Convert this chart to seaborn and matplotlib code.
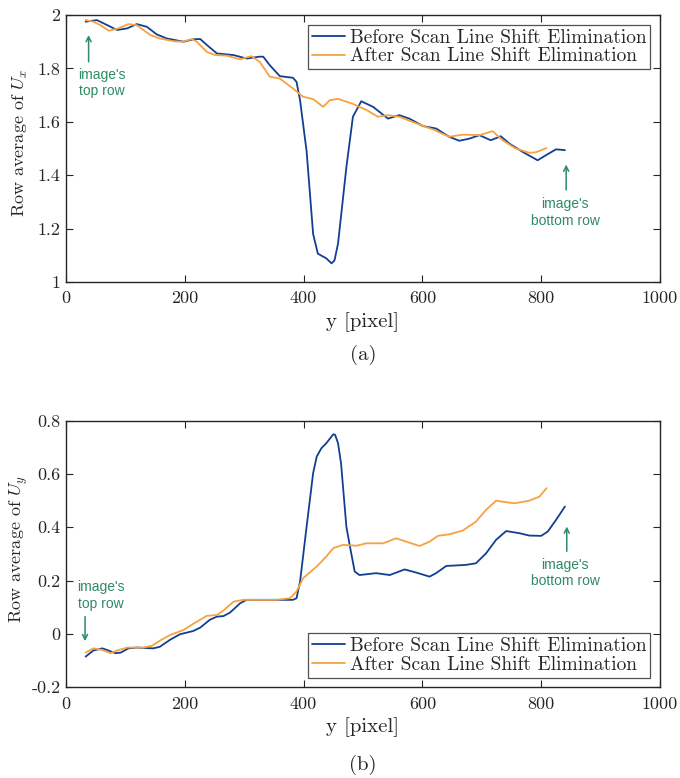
import matplotlib
matplotlib.use("Agg")
import matplotlib.pyplot as plt
import seaborn as sns

# ---- Row average of U_x ----
ux_before_y = [33, 52, 63, 86, 103, 119, 136, 153, 170, 198, 214, 226, 237, 254, 282,
               304, 326, 332, 343, 360, 382, 388, 394, 405, 416, 424, 438, 447, 452,
               458, 472, 483, 497, 517, 542, 561, 578, 601, 623, 645, 662, 679, 696,
               715, 732, 746, 769, 794, 808, 825, 840]
ux_before = [1.975, 1.981, 1.969, 1.944, 1.950, 1.966, 1.956, 1.927, 1.912, 1.900,
             1.909, 1.910, 1.888, 1.856, 1.850, 1.837, 1.844, 1.844, 1.812, 1.771,
             1.765, 1.750, 1.681, 1.490, 1.180, 1.106, 1.089, 1.070, 1.081, 1.145,
             1.430, 1.619, 1.677, 1.656, 1.612, 1.625, 1.612, 1.584, 1.575, 1.544,
             1.529, 1.537, 1.550, 1.531, 1.546, 1.519, 1.487, 1.456, 1.475, 1.497,
             1.494]

ux_after_y = [33, 46, 58, 72, 88, 105, 119, 142, 158, 181, 196, 212, 220, 237, 251,
              270, 293, 312, 326, 343, 360, 382, 399, 416, 433, 444, 458, 483, 506,
              525, 542, 561, 590, 618, 645, 668, 696, 718, 735, 757, 780, 791, 809]
ux_after = [1.981, 1.975, 1.962, 1.941, 1.950, 1.966, 1.962, 1.925, 1.912, 1.902,
            1.900, 1.910, 1.900, 1.862, 1.850, 1.848, 1.834, 1.846, 1.825, 1.769,
            1.762, 1.725, 1.694, 1.685, 1.656, 1.681, 1.686, 1.667, 1.644, 1.619,
            1.625, 1.619, 1.594, 1.571, 1.544, 1.552, 1.550, 1.565, 1.531, 1.500,
            1.484, 1.486, 1.502]

# ---- Row average of U_y ----
uy_before_y = [33, 46, 61, 69, 83, 92, 105, 119, 147, 158, 175, 192, 214, 226, 242,
               254, 265, 276, 293, 304, 326, 354, 382, 388, 394, 405, 416, 422, 430,
               438, 450, 453, 458, 463, 472, 478, 486, 494, 522, 545, 570, 590, 612,
               623, 640, 673, 690, 707, 724, 741, 763, 780, 800, 811, 825, 840]
uy_before = [-0.085, -0.062, -0.054, -0.060, -0.072, -0.070, -0.054, -0.051, -0.054,
             -0.048, -0.022, -0.001, 0.011, 0.024, 0.053, 0.065, 0.067, 0.080, 0.115,
             0.128, 0.128, 0.128, 0.128, 0.134, 0.196, 0.402, 0.603, 0.665, 0.697,
             0.715, 0.749, 0.747, 0.715, 0.640, 0.402, 0.328, 0.234, 0.221, 0.228,
             0.221, 0.242, 0.230, 0.215, 0.228, 0.255, 0.259, 0.265, 0.302, 0.353,
             0.386, 0.378, 0.369, 0.368, 0.384, 0.428, 0.478]

uy_after_y = [33, 46, 61, 75, 86, 103, 130, 145, 158, 175, 198, 214, 237, 254, 265,
              282, 298, 326, 354, 377, 388, 399, 422, 438, 450, 466, 489, 506, 534,
              556, 573, 595, 612, 626, 646, 668, 690, 707, 724, 735, 755, 780, 797, 809]
uy_after = [-0.070, -0.054, -0.060, -0.072, -0.062, -0.051, -0.051, -0.044, -0.025,
            -0.004, 0.015, 0.038, 0.068, 0.071, 0.088, 0.121, 0.128, 0.128, 0.128,
            0.134, 0.159, 0.209, 0.253, 0.290, 0.322, 0.334, 0.331, 0.340, 0.340,
            0.359, 0.346, 0.330, 0.346, 0.368, 0.374, 0.388, 0.421, 0.465, 0.500,
            0.496, 0.490, 0.500, 0.515, 0.547]

series_names = ["Before Scan Line Shift Elimination", "After Scan Line Shift Elimination"]
x_label = "y [pixel]"
y_labels = [r"Row average of $U_x$", r"Row average of $U_y$"]
captions = ["(a)", "(b)"]
note_top = "image's\ntop row"
note_bottom = "image's\nbottom row"

BLUE = "#123f91"
ORANGE = "#f7a23e"
GREEN = "#2e8b64"

sns.set_style("ticks")
plt.rcParams["font.family"] = ["cmr10", "DejaVu Serif"]
plt.rcParams["mathtext.fontset"] = "cm"
plt.rcParams["axes.unicode_minus"] = False
plt.rcParams["axes.formatter.use_mathtext"] = False

fig = plt.figure(figsize=(6.8, 7.78), dpi=100)
ax_a = fig.add_axes([0.0971, 0.6375, 0.8735, 0.3432])
ax_b = fig.add_axes([0.0971, 0.1166, 0.8735, 0.3427])


def style_axes(ax, ylim, yticks, ylabel):
    ax.set_xlim(0, 1000)
    ax.set_ylim(*ylim)
    ax.set_xticks([0, 200, 400, 600, 800, 1000])
    ax.set_yticks(yticks)
    ax.set_yticklabels([f"{t:g}" for t in yticks])
    ax.tick_params(direction="in", top=True, right=True, length=5, width=0.8,
                   labelsize=13, colors="#262626")
    ax.tick_params(axis="x", pad=6.5)
    ax.tick_params(axis="y", pad=4)
    for s in ax.spines.values():
        s.set_linewidth(1.0)
        s.set_color("#262626")
        s.set_visible(True)
    ax.set_xlabel(x_label, fontsize=15, labelpad=4)
    ax.set_ylabel(ylabel, fontsize=13)
    # same y-label column for both panels
    ax.yaxis.set_label_coords(-0.061, 0.52)


def annotate(ax, text, xy, xytext, tx, ty):
    ax.annotate("", xy=xy, xytext=xytext,
                arrowprops=dict(arrowstyle="->", color=GREEN, lw=1.1,
                                shrinkA=0, shrinkB=0, mutation_scale=9))
    ax.text(tx, ty, text, color=GREEN, ha="center", va="center",
            fontsize=10, family=["Liberation Sans"], linespacing=1.25)


def add_legend(ax, loc):
    leg = ax.legend(loc=loc, fontsize=14, frameon=True, fancybox=False,
                    handlelength=1.7, handletextpad=0.25, borderpad=0.2,
                    labelspacing=0.05, borderaxespad=0.5)
    leg.get_frame().set_edgecolor("#262626")
    leg.get_frame().set_linewidth(0.9)


# Panel (a)
sns.lineplot(x=ux_before_y, y=ux_before, ax=ax_a, color=BLUE, lw=1.3,
             label=series_names[0], sort=False)
sns.lineplot(x=ux_after_y, y=ux_after, ax=ax_a, color=ORANGE, lw=1.3,
             label=series_names[1], sort=False)
style_axes(ax_a, (1, 2), [1, 1.2, 1.4, 1.6, 1.8, 2], y_labels[0])
add_legend(ax_a, "upper right")
annotate(ax_a, note_top, (38, 1.925), (38, 1.825), 60, 1.745)
annotate(ax_a, note_bottom, (842, 1.44), (842, 1.345), 840, 1.26)
ax_a.text(0.5, -0.273, captions[0], transform=ax_a.transAxes, ha="center",
          va="center", fontsize=15)

# Panel (b)
sns.lineplot(x=uy_before_y, y=uy_before, ax=ax_b, color=BLUE, lw=1.3,
             label=series_names[0], sort=False)
sns.lineplot(x=uy_after_y, y=uy_after, ax=ax_b, color=ORANGE, lw=1.3,
             label=series_names[1], sort=False)
style_axes(ax_b, (-0.2, 0.8), [-0.2, 0, 0.2, 0.4, 0.6, 0.8], y_labels[1])
add_legend(ax_b, "lower right")
annotate(ax_b, note_top, (32, -0.027), (32, 0.065), 58, 0.143)
annotate(ax_b, note_bottom, (843, 0.403), (843, 0.31), 840, 0.229)
ax_b.text(0.5, -0.292, captions[1], transform=ax_b.transAxes, ha="center",
          va="center", fontsize=15)

fig.savefig("out.png", dpi=100, facecolor="white")
